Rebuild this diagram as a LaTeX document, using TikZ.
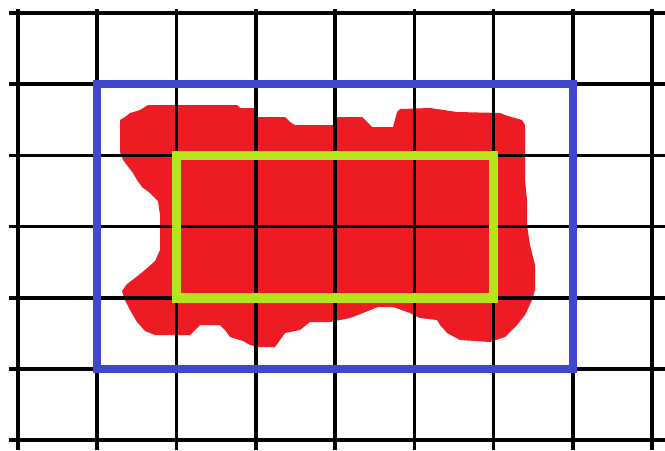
\documentclass[tikz,border=0pt]{standalone}
\usepackage{xcolor}
\definecolor{ink}{HTML}{000000}
\definecolor{blob}{HTML}{ED1C24}
\definecolor{outer}{HTML}{3F48CC}
\definecolor{inner}{HTML}{B5E61D}
\tikzset{
  gridline/.style={draw=ink, line width=2pt},
  region/.style={fill=blob, draw=none},
  bound/.style={draw=outer, line width=4.6pt},
  core/.style={draw=inner, line width=5.4pt},
}
\begin{document}
\begin{tikzpicture}[x=0.02cm, y=-0.02cm]
\useasboundingbox (0,0) rectangle (665,450);
% shape of the region
\fill[region] (120,120) -- (125,117) -- (130,113) -- (140,110) -- (148,105) -- (237,105) -- (240,108) -- (255,108)
  -- (257,117) -- (285,117) -- (290,122) -- (295,125) -- (333,125) -- (337,117) -- (362,117) -- (372,127)
  -- (393,127) -- (397,112) -- (400,109) -- (430,108) -- (457,112) -- (500,113) -- (505,115) -- (515,118)
  -- (522,120) -- (525,125) -- (525,180) -- (527,200) -- (527,225) -- (530,245) -- (535,265) -- (535,290)
  -- (532,300) -- (525,315) -- (517,325) -- (505,337) -- (490,342) -- (460,340) -- (447,333) -- (440,325)
  -- (437,320) -- (420,318) -- (410,313) -- (393,307) -- (378,307) -- (363,313) -- (350,318) -- (340,320)
  -- (330,322) -- (310,322) -- (305,326) -- (300,330) -- (285,333) -- (280,340) -- (275,347) -- (260,347)
  -- (250,345) -- (243,341) -- (230,337) -- (225,330) -- (220,325) -- (200,325) -- (195,330) -- (190,335)
  -- (155,335) -- (145,331) -- (137,322) -- (130,310) -- (125,300) -- (122,291) -- (127,284) -- (135,278)
  -- (145,270) -- (155,261) -- (160,250) -- (160,215) -- (158,201) -- (150,193) -- (142,187) -- (137,180)
  -- (133,173) -- (123,160) -- (120,152) -- cycle;
% grid
\foreach \i in {0,...,8} \draw[gridline] ({18+79.25*\i},9) -- ({18+79.25*\i},450);
\foreach \j in {0,...,6} \draw[gridline] (9,{13+71.2*\j}) -- (665,{13+71.2*\j});
% bounds
\draw[bound] (97.25,84.2) rectangle (572.75,369);
\draw[core] (176.5,155.4) rectangle (493.5,297.8);
\end{tikzpicture}
\end{document}
